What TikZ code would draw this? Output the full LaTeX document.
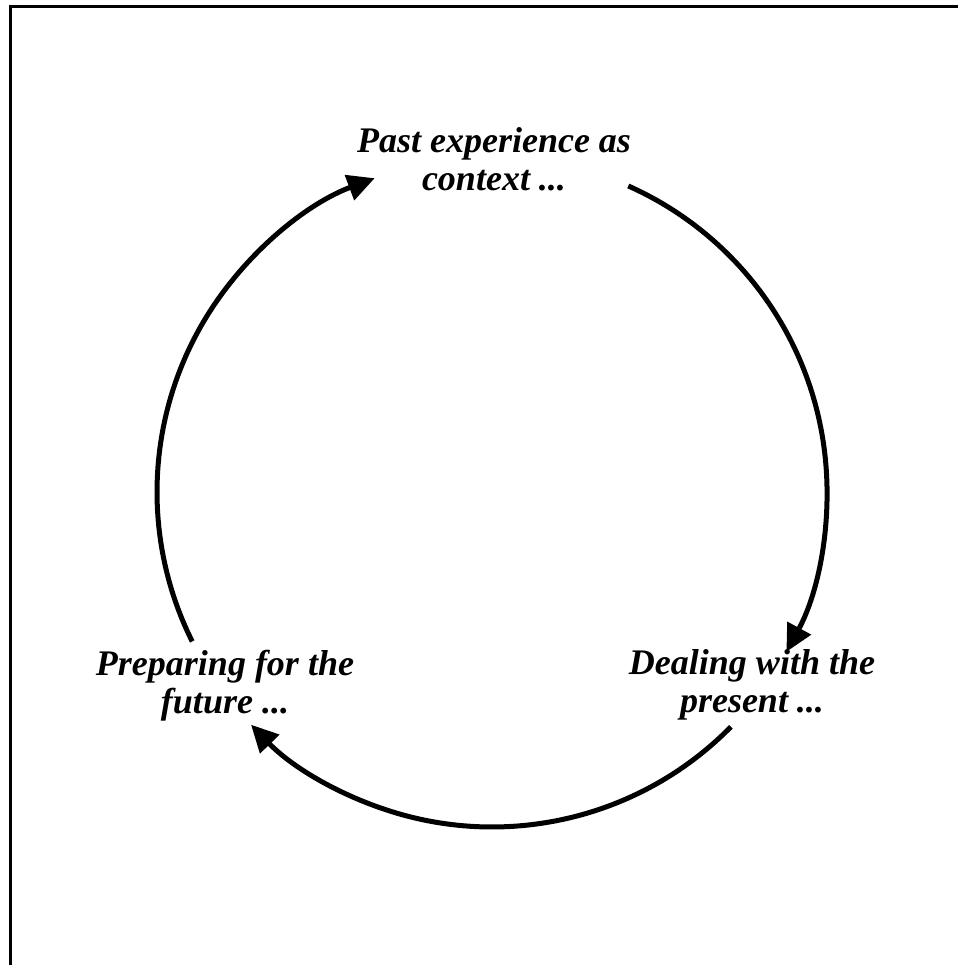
\documentclass[tikz,border=0pt]{standalone}
\usepackage{fontspec}
\setmainfont{Liberation Serif}
\usetikzlibrary{arrows.meta}
\begin{document}
\begin{tikzpicture}[x=1pt,y=1pt,
  lbl/.style={align=center,inner sep=0pt,font=\fontsize{36}{38}\selectfont\bfseries\itshape},
  cyc/.style={line width=5pt,-{Triangle[length=27pt,width=26pt]}}]
\useasboundingbox (0,0) rectangle (958,965);
% frame
\draw[line width=3pt] (10,0) -- (10,958) -- (958,958);
\coordinate (c) at (492,473);
\node[lbl] (past) at (494,806) {Past experience as\\context ...};
\node[lbl] (deal) at (752,280) {Dealing with the\\present ...};
\node[lbl] (prep) at (225,279) {Preparing for the\\future ...};
\draw[cyc] ([shift={(66:335)}]c) arc[start angle=66,end angle=-28.5,radius=335];
\draw[cyc] ([shift={(-44.5:335)}]c) arc[start angle=-44.5,end angle=-136,radius=335];
\draw[cyc] ([shift={(206.5:335)}]c) arc[start angle=206.5,end angle=110.5,radius=335];
\end{tikzpicture}
\end{document}
